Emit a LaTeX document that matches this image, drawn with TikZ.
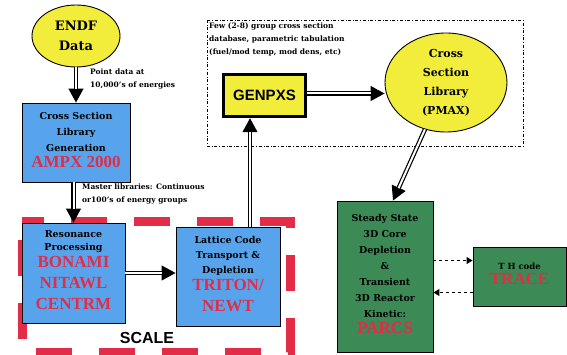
\documentclass[tikz,border=0pt]{standalone}
\usepackage{fontspec}
\setmainfont{DejaVu Serif}
\setsansfont{Liberation Sans}
\newfontfamily\namefont{Liberation Serif}
\usetikzlibrary{arrows.meta,positioning,shapes.geometric}

\definecolor{dataYellow}{RGB}{242,236,58}
\definecolor{codeBlue}{RGB}{88,164,236}
\definecolor{codeGreen}{RGB}{60,138,86}
\definecolor{codeRed}{RGB}{226,44,72}

\newcommand{\codename}[1]{{\namefont\color{codeRed}\fontsize{17}{20}\selectfont\strut #1}}

\tikzset{
  box/.style={draw,line width=0.9pt,rectangle,align=center,inner sep=1pt,
    font=\bfseries\fontsize{9.5}{15}\selectfont},
  bluebox/.style={box,fill=codeBlue},
  greenbox/.style={box,fill=codeGreen},
  datablob/.style={draw,line width=0.9pt,ellipse,fill=dataYellow,align=center,
    inner sep=0pt},
  headline/.style={draw,line width=1.2pt,-{Triangle[length=14pt,width=15pt]}},
  dbl/.style={draw,double,double distance=2pt,line width=1.2pt,shorten >=13.5pt},
  link/.style={draw,dashed,line width=1.2pt,-{Triangle[length=6pt,width=7pt]}},
  note/.style={align=left,inner sep=0pt,font=\bfseries\fontsize{7.5}{13}\selectfont}
}

\begin{document}
\begin{tikzpicture}[x=1pt,y=-1pt]
  \useasboundingbox (0,0) rectangle (567,355);

  % parametric tabulation frame and scale frame
  \draw[dash dot,line width=0.8pt] (207,20) rectangle (523,146);
  \draw[codeRed,line width=9pt,dash pattern=on 36pt off 27pt,dash phase=45pt]
    (22,222) rectangle (290,352);

  \node[datablob,minimum width=88pt,minimum height=62pt,
    font=\bfseries\fontsize{13}{20}\selectfont] (endf) at (76,36) {ENDF\\Data};
  \node[bluebox,minimum width=108pt,minimum height=79pt,
    font=\bfseries\fontsize{9.5}{16}\selectfont] (cslg) at (76,142.5)
    {Cross Section\\Library\\Generation\\\codename{AMPX 2000}};
  \node[bluebox,minimum width=103pt,minimum height=100pt,
    font=\bfseries\fontsize{9.5}{13}\selectfont] (reson) at (73.5,273)
    {Resonance\\Processing\\\codename{BONAMI}\\\codename{NITAWL}\\\codename{CENTRM}};
  \node[bluebox,minimum width=104pt,minimum height=99pt] (lattice) at (228,276.5)
    {Lattice Code\\Transport \&\\Depletion\\\codename{TRITON/}\\\codename{NEWT}};
  \node[draw,line width=3.5pt,fill=dataYellow,minimum width=82pt,minimum height=42pt,
    font=\sffamily\bfseries\fontsize{15}{15}\selectfont] (genpxs) at (264.5,95.5) {GENPXS};
  \node[datablob,minimum width=122pt,minimum height=99pt,
    font=\bfseries\fontsize{11}{19}\selectfont] (pmax) at (446,82.5)
    {Cross\\Section\\Library\\(PMAX)};
  \node[greenbox,minimum width=96pt,minimum height=151pt,
    font=\bfseries\fontsize{9.5}{16}\selectfont] (parcs) at (385,276.5)
    {Steady State\\3D Core\\Depletion\\\&\\Transient\\3D Reactor\\Kinetic:\\\codename{PARCS}};
  \node[greenbox,minimum width=93pt,minimum height=59pt,
    font=\bfseries\fontsize{8.5}{14}\selectfont] (trace) at (519.5,276.5)
    {T H code\\\codename{TRACE}};

  \node[note,anchor=west] (pointnote) at (90,79) {Point data at\\10,000's of energies};
  \node[note,anchor=north west] (masternote) at (82,184)
    {Master libraries: Continuous\\or100's of energy groups};
  \node[note,anchor=north west] (fewnote) at (209,23)
    {Few (2-8) group cross section\\database, parametric tabulation\\(fuel/mod temp, mod dens, etc)};
  \node[font=\sffamily\bfseries\fontsize{16}{16}\selectfont] (scale) at (147,338) {SCALE};

  \coordinate (latticeout) at ([xshift=22pt]lattice.north);
  \coordinate (genpxsin) at (latticeout |- genpxs.south);
  \coordinate (genpxsout) at ([yshift=2pt]genpxs.east);
  \coordinate (pmaxin) at (genpxsout -| pmax.west);

  \path (endf) edge[headline] (cslg) edge[dbl] (cslg)
        (cslg.south -| reson) edge[headline] (reson.north) edge[dbl] (reson.north)
        (reson.east) edge[headline] (reson.east -| lattice.west)
                     edge[dbl] (reson.east -| lattice.west)
        (latticeout) edge[headline] (genpxsin) edge[dbl] (genpxsin)
        (genpxsout) edge[headline] (pmaxin) edge[dbl] (pmaxin)
        (pmax) edge[headline] ([xshift=8pt]parcs.north) edge[dbl] ([xshift=8pt]parcs.north);
  \draw[link] ([yshift=16pt]parcs.east) -- ([yshift=16pt]trace.west);
  \draw[link] ([yshift=-16pt]trace.west) -- ([yshift=-16pt]parcs.east);
\end{tikzpicture}
\end{document}
